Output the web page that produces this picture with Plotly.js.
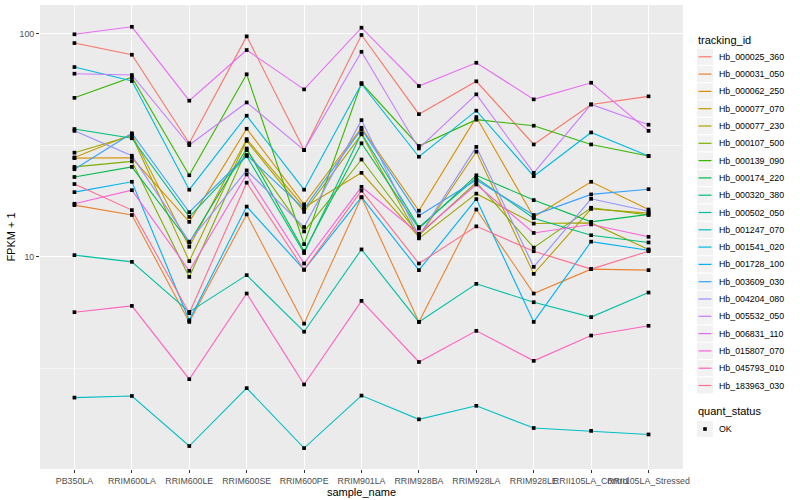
<!DOCTYPE html>
<html>
<head>
<meta charset="utf-8">
<script src="https://cdn.plot.ly/plotly-3.0.1.min.js"></script>
<style>html,body{margin:0;padding:0;background:#fff}#chart{width:800px;height:500px}</style>
</head>
<body>
<div id="chart"></div>
<script>
const samples = ['PB350LA','RRIM600LA','RRIM600LE','RRIM600SE','RRIM600PE','RRIM901LA','RRIM928BA','RRIM928LA','RRIM928LE','RRII105LA_Control','RRII105LA_Stressed'];

const trackingIds = ['Hb_000025_360','Hb_000031_050','Hb_000062_250','Hb_000077_070','Hb_000077_230','Hb_000107_500','Hb_000139_090','Hb_000174_220','Hb_000320_380','Hb_000502_050','Hb_001247_070','Hb_001541_020','Hb_001728_100','Hb_003609_030','Hb_004204_080','Hb_005532_050','Hb_006831_110','Hb_015807_070','Hb_045793_010','Hb_183963_030'];

const colors = ['#F8766D','#EA8331','#D89000','#C09B00','#A3A500','#7CAE00','#39B600','#00BB4E','#00BF7D','#00C1A3','#00BFC4','#00BAE0','#00B0F6','#35A2FF','#9590FF','#C77CFF','#E76BF3','#FA62DB','#FF62BC','#FF6C91'];

// FPKM + 1 per sample, in the order of `samples`
const Hb_000025_360 = [90.8, 80.5, 32.3, 97.3, 30.1, 98.7, 43.6, 61.2, 31.9, 48.2, 52.4];
const Hb_000031_050 = [17.05, 15.4, 5.11, 15.5, 5.02, 18.5, 5.11, 16.3, 6.85, 8.81, 8.72];
const Hb_000062_250 = [27.7, 27.8, 14.35, 37.5, 17.2, 37.9, 16.1, 42.3, 15.1, 21.7, 16.3];
const Hb_000077_070 = [27.9, 35.4, 11.1, 33.7, 16.65, 23.8, 12.3, 29.6, 8.39, 16.4, 15.7];
const Hb_000077_230 = [29.3, 34.9, 9.57, 33.1, 15.9, 35.4, 12.1, 19.2, 14.1, 14.2, 10.8];
const Hb_000107_500 = [25.3, 26.8, 8.13, 30.1, 13.0, 27.3, 12.5, 21.6, 11.0, 16.6, 15.4];
const Hb_000139_090 = [51.6, 63.8, 23.2, 65.8, 11.4, 60.1, 31.4, 41.2, 38.7, 31.9, 28.3];
const Hb_000174_220 = [22.8, 25.3, 11.6, 30.6, 10.6, 32.3, 13.4, 23.2, 17.96, 14.35, 15.5];
const Hb_000320_380 = [37.4, 34.0, 15.1, 28.3, 10.4, 35.8, 13.6, 22.6, 14.9, 12.5, 11.6];
const Hb_000502_050 = [10.18, 9.50, 5.67, 8.28, 4.62, 10.8, 5.11, 7.57, 6.26, 5.37, 6.92];
const Hb_001247_070 = [2.34, 2.38, 1.42, 2.58, 1.39, 2.39, 1.87, 2.15, 1.71, 1.66, 1.60];
const Hb_001541_020 = [70.9, 61.4, 20.0, 42.9, 20.0, 59.5, 28.1, 45.2, 23.0, 36.1, 28.3];
const Hb_001728_100 = [19.5, 21.7, 5.20, 16.8, 8.76, 18.5, 8.72, 18.15, 5.11, 11.7, 10.7];
const Hb_003609_030 = [24.7, 35.8, 15.85, 28.6, 16.4, 37.3, 15.3, 22.1, 15.4, 19.05, 20.1];
const Hb_004204_080 = [36.7, 28.4, 11.7, 24.4, 13.6, 41.0, 12.4, 31.1, 9.02, 18.2, 16.0];
const Hb_005532_050 = [66.2, 65.3, 31.7, 49.2, 30.1, 83.0, 30.6, 53.5, 23.8, 48.2, 39.1];
const Hb_006831_110 = [99.4, 107.4, 50.1, 84.5, 56.3, 106.4, 58.3, 74.1, 50.8, 60.3, 36.7];
const Hb_015807_070 = [17.3, 19.9, 8.66, 23.4, 9.34, 20.6, 12.7, 21.1, 12.8, 13.97, 12.3];
const Hb_045793_010 = [5.65, 6.03, 2.83, 6.85, 2.68, 6.35, 3.38, 4.66, 3.42, 4.44, 4.91];
const Hb_183963_030 = [21.2, 16.2, 5.59, 21.5, 8.76, 19.8, 9.34, 13.7, 10.6, 8.81, 10.6];

const seriesValues = [Hb_000025_360, Hb_000031_050, Hb_000062_250, Hb_000077_070, Hb_000077_230, Hb_000107_500, Hb_000139_090, Hb_000174_220, Hb_000320_380, Hb_000502_050, Hb_001247_070, Hb_001541_020, Hb_001728_100, Hb_003609_030, Hb_004204_080, Hb_005532_050, Hb_006831_110, Hb_015807_070, Hb_045793_010, Hb_183963_030];

const quantStatus = ['OK'];
const yTickVals = [10, 100];
const yTickText = ['10', '100'];
const yMinorVals = [3.1623, 31.623];

const FONT = 'Liberation Sans, Arial, Helvetica, sans-serif';

// plot area in pixels
const W = 800, H = 500, ML = 40, MR = 117, MT = 5, MB = 31;
const PW = W - ML - MR, PH = H - MT - MB;
const px = (x) => (x - ML) / PW;          // pixel x -> paper x
const py = (y) => (H - MB - y) / PH;      // pixel y -> paper y

const traces = [];
trackingIds.forEach((id, i) => {
  traces.push({
    type: 'scatter', mode: 'lines', x: samples, y: seriesValues[i],
    name: id, line: {color: colors[i], width: 1.1}, showlegend: false
  });
});
trackingIds.forEach((id, i) => {
  traces.push({
    type: 'scatter', mode: 'markers', x: samples, y: seriesValues[i],
    name: quantStatus[0], showlegend: false,
    marker: {symbol: 'square', size: 3.7, color: '#000000'}
  });
});

// manual ggplot-style legend
const shapes = [];
const annotations = [];
const LX = 697, KEYW = 16, STEP = 17.3, Y0 = 56.8;
annotations.push({xref: 'paper', yref: 'paper', x: px(LX - 1), y: py(40), xanchor: 'left', yanchor: 'middle',
  text: 'tracking_id', showarrow: false, font: {family: FONT, size: 11, color: '#000'}});
trackingIds.forEach((id, i) => {
  const cy = Y0 + i * STEP;
  shapes.push({type: 'rect', xref: 'paper', yref: 'paper', x0: px(LX), x1: px(LX + KEYW),
    y0: py(cy - STEP / 2 + 0.6), y1: py(cy + STEP / 2 - 0.6), fillcolor: '#F2F2F2', line: {width: 0}, layer: 'above'});
});
trackingIds.forEach((id, i) => {
  const cy = Y0 + i * STEP;
  shapes.push({type: 'line', xref: 'paper', yref: 'paper', x0: px(LX + 1.5), x1: px(LX + KEYW - 1.5),
    y0: py(cy), y1: py(cy), line: {color: colors[i], width: 1.2}, layer: 'above'});
  annotations.push({xref: 'paper', yref: 'paper', x: px(LX + KEYW + 4), y: py(cy), xanchor: 'left', yanchor: 'middle',
    text: id, showarrow: false, font: {family: FONT, size: 8.8, color: '#000'}});
});
annotations.push({xref: 'paper', yref: 'paper', x: px(LX - 1), y: py(411), xanchor: 'left', yanchor: 'middle',
  text: 'quant_status', showarrow: false, font: {family: FONT, size: 11, color: '#000'}});
quantStatus.forEach((q, i) => {
  const cy = 429 + i * STEP;
  shapes.push({type: 'rect', xref: 'paper', yref: 'paper', x0: px(LX), x1: px(LX + KEYW),
    y0: py(cy - STEP / 2 + 0.6), y1: py(cy + STEP / 2 - 0.6), fillcolor: '#F2F2F2', line: {width: 0}, layer: 'above'});
  shapes.push({type: 'rect', xref: 'paper', yref: 'paper', x0: px(LX + KEYW / 2 - 1.8), x1: px(LX + KEYW / 2 + 1.8),
    y0: py(cy - 1.8), y1: py(cy + 1.8), fillcolor: '#000000', line: {width: 0}, layer: 'above'});
  annotations.push({xref: 'paper', yref: 'paper', x: px(LX + KEYW + 4), y: py(cy), xanchor: 'left', yanchor: 'middle',
    text: q, showarrow: false, font: {family: FONT, size: 8.8, color: '#000'}});
});

const layout = {
  width: W, height: H,
  margin: {l: ML, r: MR, t: MT, b: MB},
  paper_bgcolor: '#FFFFFF', plot_bgcolor: '#EBEBEB',
  font: {family: FONT, size: 9, color: '#000000'},
  showlegend: false,
  xaxis: {
    type: 'category', range: [-0.6, 10.6], tickangle: 0,
    showgrid: true, gridcolor: '#FFFFFF', gridwidth: 1.1,
    zeroline: false, showline: false,
    ticks: 'outside', ticklen: 3, tickwidth: 1, tickcolor: '#333333',
    tickfont: {family: FONT, size: 8.8, color: '#4D4D4D'},
    title: {text: 'sample_name', font: {family: FONT, size: 11, color: '#000000'}, standoff: 0}
  },
  yaxis: {
    type: 'log', range: [0.0493, 2.1287],
    tickvals: yTickVals, ticktext: yTickText,
    showgrid: true, gridcolor: '#FFFFFF', gridwidth: 1.1,
    minor: {tickvals: yMinorVals, showgrid: true, gridcolor: '#FFFFFF', gridwidth: 0.55, ticks: ''},
    zeroline: false, showline: false,
    ticks: 'outside', ticklen: 3, tickwidth: 1, tickcolor: '#333333',
    tickfont: {family: FONT, size: 8.8, color: '#4D4D4D'},
    title: {text: 'FPKM + 1', font: {family: FONT, size: 11, color: '#000000'}, standoff: 1}
  },
  shapes: shapes,
  annotations: annotations
};

Plotly.newPlot('chart', traces, layout, {displayModeBar: false, staticPlot: true});
</script>
</body>
</html>
